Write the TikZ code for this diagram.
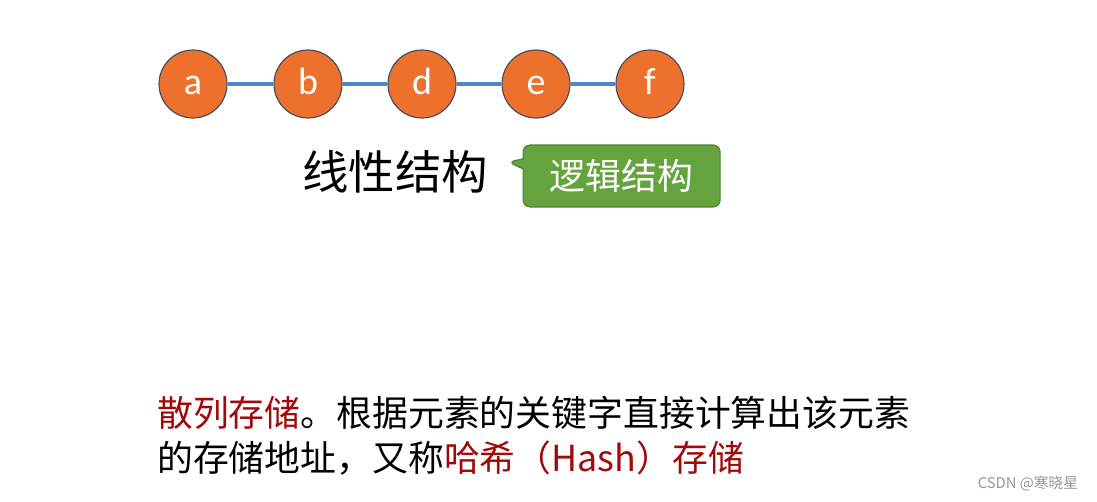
\documentclass[tikz,border=0pt]{standalone}
\usepackage{fontspec}
\setmainfont{Noto Sans CJK SC}
\newfontfamily\latinfont{Carlito}
\usetikzlibrary{shapes.callouts,positioning}
\definecolor{ballorange}{RGB}{237,113,45}
\definecolor{ballrim}{RGB}{65,75,95}
\definecolor{linkblue}{RGB}{75,135,200}
\definecolor{tipgreen}{RGB}{101,163,62}
\definecolor{tiprim}{RGB}{78,130,48}
\definecolor{hashred}{RGB}{160,10,10}
\definecolor{markgray}{RGB}{150,150,150}
\begin{document}
\begin{tikzpicture}[
  ball/.style={circle,draw=ballrim,thick,fill=ballorange,minimum size=1.7cm,
    inner sep=0pt,text height=15.6pt,text depth=0pt,text=white,
    font=\latinfont\fontsize{27}{27}\selectfont},
  link/.style={linkblue,line width=2.2pt},
  bigtext/.style={font=\fontsize{33}{33}\selectfont},
  bodytext/.style={anchor=west,inner sep=0pt,font=\fontsize{25.5}{25.5}\selectfont}
]
  \useasboundingbox (0,0) rectangle (27.425,-12.525);
  % --- chain of elements ---
  \foreach \n/\x in {a/4.825,b/7.7,d/10.55,e/13.4,f/16.25}{
    \node[ball] (\n) at (\x,-2.1) {\n};
  }
  \foreach \p/\q in {a/b,b/d,d/e,e/f}{
    \draw[link] (\p) -- (\q);
  }
  % --- label and callout ---
  \node[bigtext] (linear) at (9.875,-4.3) {线性结构};
  \coordinate (tip) at (12.7,-4.05);
  \node[rectangle callout,callout absolute pointer=(tip),rounded corners=5pt,
    draw=tiprim,fill=tipgreen,thick,text=white,minimum width=4.925cm,
    minimum height=1.55cm,font=\fontsize{25.5}{25.5}\selectfont]
    (logic) at (15.54,-4.4) {逻辑结构};
  % --- description below ---
  \node[bodytext] (line1) at (3.925,-10.325)
    {\textcolor{hashred}{散列存储}。根据元素的关键字直接计算出该元素};
  \node[bodytext] (line2) at (3.925,-11.45)
    {的存储地址，又称\textcolor{hashred}{哈希（Hash）存储}};
  % --- watermark ---
  \node[markgray,font=\fontsize{10.5}{10.5}\selectfont] (mark) at (25.7,-12.1) {CSDN @寒晓星};
\end{tikzpicture}
\end{document}
